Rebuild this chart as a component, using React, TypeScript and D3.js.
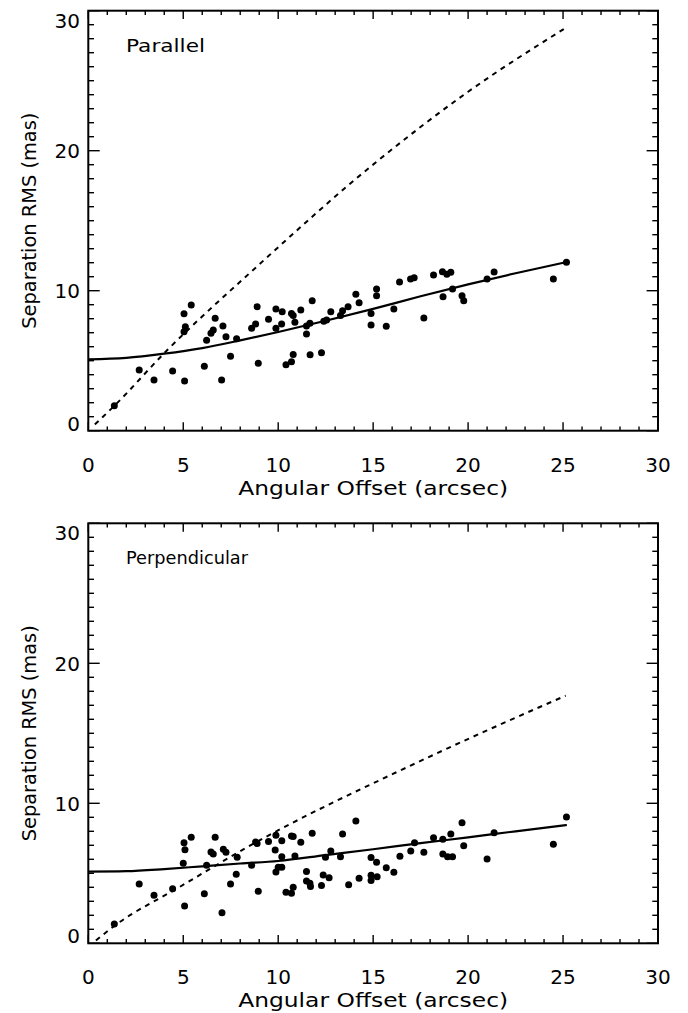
import React from "react";
import * as d3 from "d3";

// ---------- data ----------
const xTicks = [0, 5, 10, 15, 20, 25, 30];
const yTicks = [0, 10, 20, 30];
const panelLabels = ["Parallel", "Perpendicular"];
const panelLabelWidths = [79, 122];
const xTitle = "Angular Offset (arcsec)";
const yTitle = "Separation RMS (mas)";

const parX = [1.37, 2.68, 3.46, 4.44, 5.07, 5.04, 5.11, 5.04, 5.42, 6.11, 6.23, 6.46, 6.58, 6.68, 7.02, 7.09, 7.25, 7.49, 7.81, 8.6, 8.81, 8.89, 8.95, 9.49, 9.88, 9.88, 10.21, 10.18, 10.41, 10.7, 10.79, 10.7, 10.79, 10.88, 11.19, 11.49, 11.49, 11.67, 11.79, 11.68, 12.28, 12.4, 12.55, 12.77, 13.28, 13.39, 13.68, 14.09, 14.26, 14.89, 14.89, 15.18, 15.18, 15.69, 16.09, 16.39, 16.97, 17.16, 17.67, 18.18, 18.65, 18.88, 19.09, 18.68, 19.18, 19.68, 19.77, 21.0, 21.37, 24.49, 25.18];
const parY = [1.79, 4.34, 3.62, 4.26, 3.55, 7.07, 7.43, 8.36, 8.98, 4.6, 6.46, 6.96, 7.19, 8.03, 3.62, 7.48, 6.71, 5.31, 6.57, 7.31, 7.62, 8.86, 4.81, 7.96, 8.69, 7.31, 8.5, 7.62, 4.71, 4.93, 5.45, 8.38, 8.22, 7.74, 8.62, 7.48, 6.91, 7.67, 9.29, 5.43, 5.57, 7.81, 7.91, 8.5, 8.22, 8.57, 8.86, 9.74, 9.14, 8.38, 7.55, 10.12, 9.64, 7.46, 8.69, 10.62, 10.84, 10.93, 8.05, 11.12, 11.36, 11.17, 11.31, 9.57, 10.12, 9.64, 9.29, 10.84, 11.34, 10.84, 12.03];

const perX = [1.37, 2.68, 3.46, 4.44, 5.07, 5.0, 5.09, 5.04, 5.42, 6.11, 6.23, 6.46, 6.58, 6.68, 7.04, 7.11, 7.25, 7.49, 7.79, 7.84, 8.6, 8.81, 8.89, 8.95, 9.49, 9.88, 9.84, 9.88, 10.0, 10.19, 10.19, 10.19, 10.41, 10.7, 10.79, 10.7, 10.79, 10.88, 11.19, 11.49, 11.49, 11.67, 11.7, 11.79, 12.28, 12.37, 12.49, 12.68, 12.77, 13.28, 13.39, 13.71, 14.09, 14.26, 14.89, 14.89, 14.89, 15.18, 15.21, 15.69, 16.09, 16.41, 16.98, 17.18, 17.67, 18.18, 18.67, 18.67, 18.92, 19.18, 19.09, 19.68, 19.77, 21.0, 21.37, 24.49, 25.18];
const perY = [1.38, 4.24, 3.43, 3.9, 2.66, 5.71, 6.69, 7.19, 7.57, 3.54, 5.57, 6.52, 6.38, 7.57, 2.19, 6.71, 6.5, 4.24, 4.93, 6.14, 5.57, 7.24, 7.12, 3.71, 7.28, 7.71, 6.66, 5.09, 5.43, 7.33, 6.19, 5.43, 3.64, 3.57, 4.0, 7.66, 7.62, 6.24, 7.21, 5.12, 4.45, 4.29, 4.05, 7.86, 4.12, 4.88, 6.14, 4.69, 6.59, 6.19, 7.81, 4.19, 8.74, 4.64, 6.12, 4.86, 4.48, 5.79, 4.76, 5.4, 5.07, 6.21, 6.59, 7.19, 6.5, 7.54, 7.43, 6.38, 6.19, 6.19, 7.81, 8.61, 6.97, 6.02, 7.9, 7.07, 9.02];

const fitX = [0, 2, 4, 6, 8, 10, 12.5, 15, 17.5, 20, 22.5, 25.2];
const parFitY = [5.1, 5.2, 5.5, 5.9, 6.45, 7.05, 7.85, 8.7, 9.6, 10.45, 11.25, 12.05];
const perFitY = [5.12, 5.15, 5.3, 5.5, 5.7, 5.88, 6.3, 6.72, 7.15, 7.57, 8.0, 8.45];

const parDashX = [0.35, 1.32, 4.16, 8.68, 15.18, 20.0, 25.1];
const parDashY = [0.45, 1.71, 5.76, 11.48, 19.21, 24.21, 28.74];
const perDashX = [0.4, 1.32, 4.83, 8.68, 16.84, 20.97, 25.14];
const perDashY = [0.2, 1.19, 4.04, 7.1, 12.61, 15.19, 17.69];

const panels = [
  { label: panelLabels[0], lw: panelLabelWidths[0], px: parX, py: parY, fy: parFitY, dx: parDashX, dy: parDashY, top: 10.7, bottom: 430.7 },
  { label: panelLabels[1], lw: panelLabelWidths[1], px: perX, py: perY, fy: perFitY, dx: perDashX, dy: perDashY, top: 523.3, bottom: 943.3 },
];

const FONT = "'DejaVu Sans', sans-serif";
const LEFT = 88.3;
const RIGHT = 658;

function Panel({ p }: { p: (typeof panels)[number] }) {
  const x = d3.scaleLinear().domain([0, 30]).range([LEFT, RIGHT]);
  const y = d3.scaleLinear().domain([0, 30]).range([p.bottom, p.top]);
  const line = d3
    .line<[number, number]>()
    .x((d) => x(d[0]))
    .y((d) => y(d[1]))
    .curve(d3.curveMonotoneX);
  const fit = line(fitX.map((v, i) => [v, p.fy[i]] as [number, number])) || "";
  const dash = line(p.dx.map((v, i) => [v, p.dy[i]] as [number, number])) || "";
  const xMinor = d3.range(0, 31, 1).filter((v) => v % 5 !== 0);
  const yMinor = d3.range(0, 31, 1).filter((v) => v % 10 !== 0);
  const xMaj = 8.4, xMin = 4.2, yMaj = 11.4, yMin = 5.7;
  const tickStroke = 1.4;
  return (
    <g>
      {xTicks.map((t) => (
        <g key={"xt" + t}>
          <line x1={x(t)} x2={x(t)} y1={p.bottom} y2={p.bottom - xMaj} stroke="#000" strokeWidth={tickStroke} />
          <line x1={x(t)} x2={x(t)} y1={p.top} y2={p.top + xMaj} stroke="#000" strokeWidth={tickStroke} />
        </g>
      ))}
      {xMinor.map((t) => (
        <g key={"xm" + t}>
          <line x1={x(t)} x2={x(t)} y1={p.bottom} y2={p.bottom - xMin} stroke="#000" strokeWidth={tickStroke} />
          <line x1={x(t)} x2={x(t)} y1={p.top} y2={p.top + xMin} stroke="#000" strokeWidth={tickStroke} />
        </g>
      ))}
      {yTicks.map((t) => (
        <g key={"yt" + t}>
          <line x1={LEFT} x2={LEFT + yMaj} y1={y(t)} y2={y(t)} stroke="#000" strokeWidth={tickStroke} />
          <line x1={RIGHT} x2={RIGHT - yMaj} y1={y(t)} y2={y(t)} stroke="#000" strokeWidth={tickStroke} />
        </g>
      ))}
      {yMinor.map((t) => (
        <g key={"ym" + t}>
          <line x1={LEFT} x2={LEFT + yMin} y1={y(t)} y2={y(t)} stroke="#000" strokeWidth={tickStroke} />
          <line x1={RIGHT} x2={RIGHT - yMin} y1={y(t)} y2={y(t)} stroke="#000" strokeWidth={tickStroke} />
        </g>
      ))}
      <rect x={LEFT} y={p.top} width={RIGHT - LEFT} height={p.bottom - p.top} fill="none" stroke="#000" strokeWidth={2} />
      {xTicks.map((t) => (
        <text key={"xl" + t} x={x(t)} y={p.bottom + 41} textAnchor="middle" fontSize={20} fontFamily={FONT}>
          {t}
        </text>
      ))}
      {yTicks.map((t) => {
        let by = y(t) + 7.3;
        if (t === 0) by = p.bottom;
        if (t === 30) by = p.top + 17;
        return (
          <text key={"yl" + t} x={80} y={by} textAnchor="end" fontSize={20} fontFamily={FONT}>
            {t}
          </text>
        );
      })}
      <text x={(LEFT + RIGHT) / 2} y={p.bottom + 64} textAnchor="middle" fontSize={19} fontFamily={FONT} textLength={270} lengthAdjust="spacingAndGlyphs">
        {xTitle}
      </text>
      <text
        transform={`translate(36,${(p.top + p.bottom) / 2}) rotate(-90)`}
        textAnchor="middle"
        fontSize={19}
        fontFamily={FONT}
        textLength={216}
        lengthAdjust="spacingAndGlyphs"
      >
        {yTitle}
      </text>
      <text x={126} y={p.top + 41} fontSize={18} fontFamily={FONT} textLength={p.lw} lengthAdjust="spacingAndGlyphs">
        {p.label}
      </text>
      <path d={dash} fill="none" stroke="#000" strokeWidth={2} strokeDasharray="5,5" />
      <path d={fit} fill="none" stroke="#000" strokeWidth={2.2} />
      {p.px.map((v, i) => (
        <circle key={"pt" + i} cx={x(v)} cy={y(p.py[i])} r={3.5} fill="#000" />
      ))}
    </g>
  );
}

export default function App() {
  return (
    <svg
      width={688}
      height={1013}
      viewBox="0 0 688 1013"
      style={{ position: "absolute", left: 0, top: 0, background: "#fff" }}
    >
      <rect width={688} height={1013} fill="#fff" />
      {panels.map((p, i) => (
        <Panel key={i} p={p} />
      ))}
    </svg>
  );
}
